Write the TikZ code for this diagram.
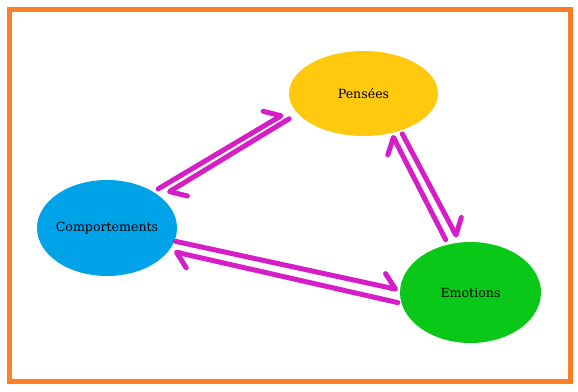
\documentclass[tikz,border=0pt]{standalone}
\usepackage{fontspec}
\newfontfamily\lblfont{DejaVu Serif}
\usetikzlibrary{shapes.geometric,arrows.meta}
\definecolor{frameorange}{RGB}{255,127,39}
\definecolor{penseesyellow}{RGB}{255,201,14}
\definecolor{compblue}{RGB}{0,162,232}
\definecolor{emogreen}{RGB}{10,200,24}
\definecolor{arrmagenta}{RGB}{213,30,200}
\tikzset{
  bubble/.style={ellipse, inner sep=0pt, draw=none,
    label={[font=\lblfont\fontsize{12.6}{14}\selectfont, text=black]center:#1}},
  arr/.style={draw=arrmagenta, line width=5pt, line cap=round, line join=round,
    -{Straight Barb[harpoon, length=13pt, width=26pt, line cap=round, line join=round]}}
}
\begin{document}
\begin{tikzpicture}[x=1pt,y=-1pt]
\useasboundingbox (0,0) rectangle (578,391);
\fill[white] (0,0) rectangle (578,391);
\draw[frameorange, line width=5pt] (9.5,9.5) rectangle (570.5,381.5);
\node[bubble=Pensées, fill=penseesyellow, minimum width=149pt, minimum height=85pt] (P) at (363.5,93.5) {};
\node[bubble=Comportements, fill=compblue, minimum width=140pt, minimum height=96pt] (C) at (107,228) {};
\node[bubble=Emotions, fill=emogreen, minimum width=141pt, minimum height=101pt] (E) at (470.5,292.5) {};
% Comportements <-> Pensees
\draw[arr, shorten <=5.6pt, shorten >=12pt] (C.38.7) -- (P.192.1);
\draw[arr, shorten <=9.8pt, shorten >=7.8pt] (P.197.5) -- (C.30.3);
% Pensees <-> Emotions
\draw[arr, shorten <=5.3pt, shorten >=2.3pt] (E.115.9) -- (P.-55.5);
\draw[arr, shorten <=3.7pt, shorten >=5.8pt] (P.-45) -- (E.102.7);
% Comportements <-> Emotions
\draw[arr, shorten <=0.9pt, shorten >=2pt] (C.-11.6) -- (E.178.8);
\draw[arr, shorten <=3.7pt, shorten >=5.1pt] (E.189) -- (C.-20.7);
\end{tikzpicture}
\end{document}
